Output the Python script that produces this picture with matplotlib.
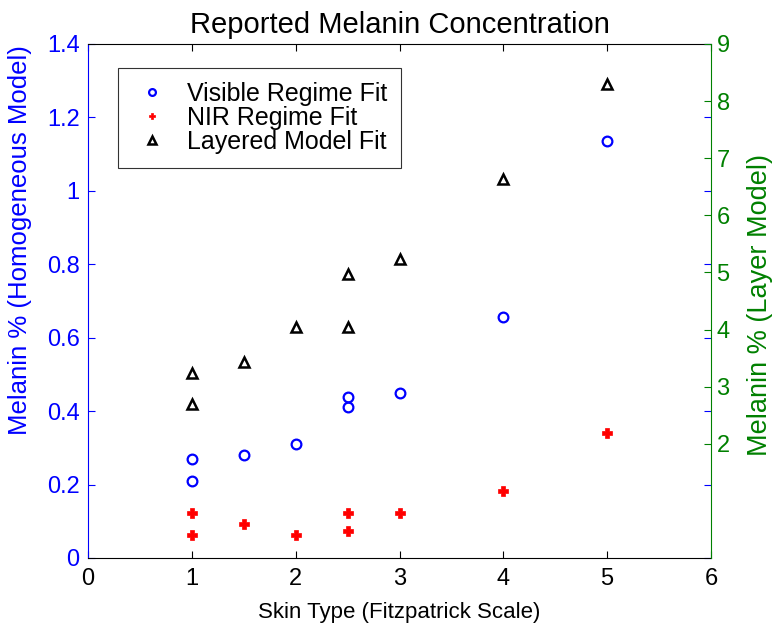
import matplotlib
matplotlib.use('Agg')
import matplotlib.pyplot as plt
from matplotlib.ticker import FormatStrFormatter

plt.rcParams['font.family'] = ['Liberation Sans', 'DejaVu Sans']

# skin type vs melanin %
vis_x = [1, 1, 1.5, 2, 2.5, 2.5, 3, 4, 5]
vis_y = [0.27, 0.21, 0.28, 0.31, 0.438, 0.41, 0.449, 0.657, 1.135]

nir_x = [1, 1, 1.5, 2, 2.5, 2.5, 3, 4, 5]
nir_y = [0.122, 0.062, 0.093, 0.062, 0.122, 0.073, 0.122, 0.182, 0.34]

# layered model values (right axis)
lay_x = [1, 1, 1.5, 2, 2.5, 2.5, 3, 4, 5]
lay_y = [3.24, 2.70, 3.44, 4.04, 4.05, 4.98, 5.24, 6.63, 8.30]

blue = (0, 0, 1)
green = (0, 0.5, 0)

fig = plt.figure(figsize=(7.76, 6.3), dpi=100)
ax = fig.add_axes([88/776, 72/630, 623/776, 514/630])
ax2 = ax.twinx()

h1, = ax.plot(vis_x, vis_y, 'o', ls='none', mfc='none', mec=blue, ms=7, mew=1.6,
              label='Visible Regime Fit')
h2, = ax.plot(nir_x, nir_y, 'P', ls='none', mfc='red', mec='red', ms=6.5, mew=0.5,
              label='NIR Regime Fit')
h3, = ax2.plot(lay_x, lay_y, '^', ls='none', mfc='none', mec='black', ms=7.5, mew=1.8,
               label='Layered Model Fit')

ax.set_xlim(0, 6)
ax.set_ylim(0, 1.4)
ax.set_xticks(range(0, 7))
ax.set_yticks([0, 0.2, 0.4, 0.6, 0.8, 1.0, 1.2, 1.4])
ax.yaxis.set_major_formatter(FormatStrFormatter('%g'))
ax2.set_ylim(0, 9)
ax2.set_yticks(range(2, 10))

ax.tick_params(axis='x', direction='in', top=True, length=5, width=0.8,
               labelsize=17, colors='black', pad=7)
ax.tick_params(axis='y', direction='in', right=True, length=5, width=0.8,
               labelsize=17, colors=blue, pad=6)
ax2.tick_params(axis='y', direction='in', length=5, width=0.8,
                labelsize=17, colors=green, pad=4)

for s in ['top', 'bottom']:
    ax.spines[s].set_color('black')
ax.spines['left'].set_color(blue)
ax2.spines['right'].set_color(green)
ax2.spines['left'].set_visible(False)
ax2.spines['top'].set_visible(False)
ax2.spines['bottom'].set_visible(False)
ax.spines['right'].set_visible(False)

ax.set_xlabel('Skin Type (Fitzpatrick Scale)', fontsize=16, labelpad=9)
ax.set_ylabel('Melanin % (Homogeneous Model)', fontsize=18.5, color=blue)
ax.yaxis.set_label_coords(-0.09, 0.619)
ax2.set_ylabel('Melanin % (Layer Model)', fontsize=19.5, color=green)
ax2.yaxis.set_label_coords(1.058, 0.492)
ax.set_title('Reported Melanin Concentration', fontsize=21, pad=8)

leg = ax2.legend(handles=[h1, h2, h3], loc='upper left', bbox_to_anchor=(0.048, 0.953),
                 fontsize=18, frameon=True, fancybox=False, edgecolor='black',
                 borderpad=0.55, handletextpad=0.6, labelspacing=0.0, markerscale=0.7,
                 handlelength=1.6, borderaxespad=0)
leg.get_frame().set_linewidth(0.8)

fig.savefig('out.png', dpi=100)
